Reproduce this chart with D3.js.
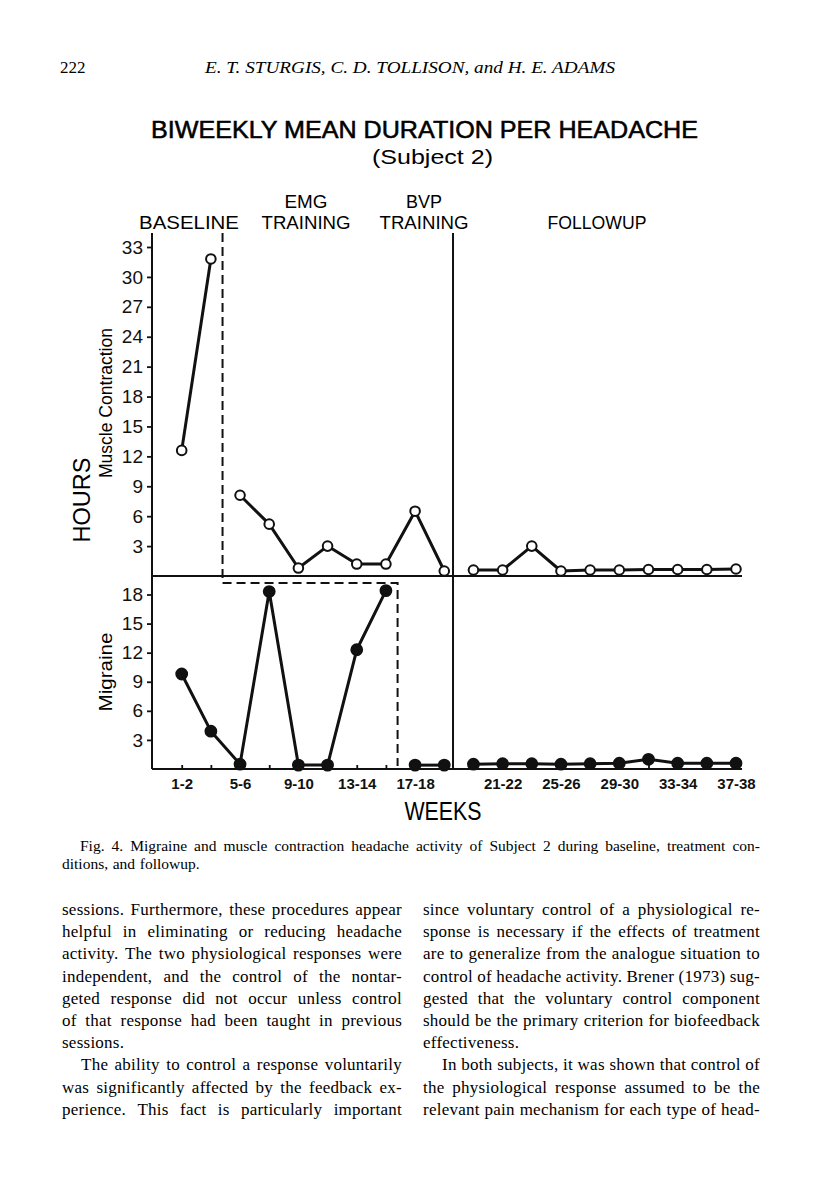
<!DOCTYPE html>
<html>
<head>
<meta charset="utf-8">
<script src="https://cdn.jsdelivr.net/npm/d3@7"></script>
<style>
  body { margin: 0; background: #fff; }
  svg { display: block; }
</style>
</head>
<body>
<svg id="page" width="816" height="1195"></svg>
<script>

// biweekly periods along the x axis (slot index 0..19), only some are labelled
var slotLabels = ["1-2", "", "5-6", "", "9-10", "", "13-14", "", "17-18", "",
                  "", "21-22", "", "25-26", "", "29-30", "", "33-34", "", "37-38"];

// mean hours per headache, one value per slot
var muscleHours   = [12.6, 31.8, 8.1, 5.2, 0.8, 3.0, 1.2, 1.2, 6.5, 0.5,
                     0.6, 0.6, 3.0, 0.5, 0.6, 0.6, 0.65, 0.65, 0.65, 0.7];
var migraineHours = [9.8, 3.9, 0.5, 18.3, 0.4, 0.4, 12.3, 18.4, 0.4, 0.4,
                     0.5, 0.55, 0.55, 0.5, 0.55, 0.6, 1.0, 0.6, 0.6, 0.6];

// phase boundaries (slot units) where each series' line is broken
var muscleBreaks   = [1.4, 9.3];
var migraineBreaks = [7.4, 9.3];

var upperTicks = [3, 6, 9, 12, 15, 18, 21, 24, 27, 30, 33];
var lowerTicks = [3, 6, 9, 12, 15, 18];

var leftText = [
    ["sessions. Furthermore, these procedures appear", true],
    ["helpful in eliminating or reducing headache", true],
    ["activity. The two physiological responses were", true],
    ["independent, and the control of the nontar-", true],
    ["geted response did not occur unless control", true],
    ["of that response had been taught in previous", true],
    ["sessions.", false],
    ["The ability to control a response voluntarily", true, 19],
    ["was significantly affected by the feedback ex-", true],
    ["perience. This fact is particularly important", true]
];
var rightText = [
    ["since voluntary control of a physiological re-", true],
    ["sponse is necessary if the effects of treatment", true],
    ["are to generalize from the analogue situation to", true],
    ["control of headache activity. Brener (1973) sug-", true],
    ["gested that the voluntary control component", true],
    ["should be the primary criterion for biofeedback", true],
    ["effectiveness.", false],
    ["In both subjects, it was shown that control of", true, 19],
    ["the physiological response assumed to be the", true],
    ["relevant pain mechanism for each type of head-", true]
];

var svg = d3.select("#page");
var sans = "'Liberation Sans', Arial, sans-serif";
var serif = "'Liberation Serif', 'Times New Roman', serif";

// ---- running head ----
svg.append("text")
    .attr("x", 60).attr("y", 73)
    .style("font-family", serif).style("font-size", "17px")
    .text("222");

svg.append("text")
    .attr("x", 205).attr("y", 73)
    .attr("textLength", 410).attr("lengthAdjust", "spacingAndGlyphs")
    .style("font-family", serif).style("font-size", "17.5px").style("font-style", "italic")
    .text("E. T. STURGIS, C. D. TOLLISON, and H. E. ADAMS");

// ---- titles ----
svg.append("text")
    .attr("x", 151).attr("y", 138)
    .attr("textLength", 547).attr("lengthAdjust", "spacingAndGlyphs")
    .style("font-family", sans).style("font-size", "24px")
    .attr("stroke", "#000").attr("stroke-width", 0.55)
    .text("BIWEEKLY MEAN DURATION PER HEADACHE");

svg.append("text")
    .attr("x", 372).attr("y", 164)
    .attr("textLength", 121).attr("lengthAdjust", "spacingAndGlyphs")
    .style("font-family", sans).style("font-size", "21px")
    .text("(Subject 2)");

var phaseText = [
    {x: 189, y: 229, t: "BASELINE", w: 100},
    {x: 306, y: 208, t: "EMG", w: 43},
    {x: 306, y: 229, t: "TRAINING", w: 89},
    {x: 424, y: 208, t: "BVP", w: 36},
    {x: 424, y: 229, t: "TRAINING", w: 89},
    {x: 597, y: 229, t: "FOLLOWUP", w: 99}
];
svg.selectAll("text.phase")
    .data(phaseText)
    .enter().append("text")
    .attr("class", "phase")
    .attr("x", function (d) { return d.x; })
    .attr("y", function (d) { return d.y; })
    .attr("text-anchor", "middle")
    .attr("textLength", function (d) { return d.w; })
    .attr("lengthAdjust", "spacingAndGlyphs")
    .style("font-family", sans).style("font-size", "18.5px")
    .text(function (d) { return d.t; });

// ---- scales ----
var axisX = 152, topY = 233;
var x = d3.scaleLinear().domain([0, 19]).range([181.7, 736]);
var yUp = d3.scaleLinear().domain([0, 33]).range([576, 247]);
var yLo = d3.scaleLinear().domain([0, 18]).range([769, 594.5]);
var rightX = 742;

var fig = svg.append("g");

// axes
var upAxis = fig.append("g")
    .attr("transform", "translate(" + axisX + ",0)")
    .call(d3.axisLeft(yUp).tickValues(upperTicks).tickSize(5).tickPadding(4));
var loAxis = fig.append("g")
    .attr("transform", "translate(" + axisX + ",0)")
    .call(d3.axisLeft(yLo).tickValues(lowerTicks).tickSize(5).tickPadding(4));
var xAxis = fig.append("g")
    .attr("transform", "translate(0," + yLo(0) + ")")
    .call(d3.axisBottom(x).tickValues(d3.range(slotLabels.length))
        .tickSizeInner(-4).tickSizeOuter(0).tickPadding(9)
        .tickFormat(function (i) { return slotLabels[i]; }));

[upAxis, loAxis, xAxis].forEach(function (a) {
    a.select(".domain").remove();
    a.selectAll("line").attr("stroke", "#111").attr("stroke-width", 1.8);
    a.selectAll("text").attr("fill", "#111").style("font-family", sans);
});
upAxis.selectAll("text").style("font-size", "19px");
loAxis.selectAll("text").style("font-size", "19px");
xAxis.selectAll("text").style("font-size", "15px").style("font-weight", "bold");

// frame lines
var frame = fig.append("g").attr("stroke", "#111").attr("stroke-width", 2);
frame.append("line").attr("x1", axisX).attr("x2", axisX).attr("y1", topY).attr("y2", yLo(0));
frame.append("line").attr("x1", axisX).attr("x2", rightX).attr("y1", yUp(0)).attr("y2", yUp(0));
frame.append("line").attr("x1", axisX).attr("x2", rightX).attr("y1", yLo(0)).attr("y2", yLo(0));
frame.append("line").attr("x1", x(9.3)).attr("x2", x(9.3)).attr("y1", topY).attr("y2", yLo(0));

// dashed phase boundary for the two series
var stepY = yUp(0) + 7;
fig.append("path")
    .attr("d", d3.line()([[x(1.4), topY], [x(1.4), stepY], [x(7.4), stepY], [x(7.4), yLo(0) - 3]]))
    .attr("fill", "none").attr("stroke", "#111").attr("stroke-width", 2)
    .attr("stroke-dasharray", "9,5");

// ---- data series ----
function drawSeries(values, breaks, y, filled, r) {
    var pts = values.map(function (v, i) { return {i: i, v: v, g: d3.bisect(breaks, i)}; });
    var groups = d3.groups(pts, function (d) { return d.g; });
    var line = d3.line()
        .x(function (d) { return x(d.i); })
        .y(function (d) { return y(d.v); });
    fig.append("g").selectAll("path")
        .data(groups)
        .enter().append("path")
        .attr("d", function (d) { return line(d[1]); })
        .attr("fill", "none").attr("stroke", "#111")
        .attr("stroke-width", 3).attr("stroke-linejoin", "round");
    fig.append("g").selectAll("circle")
        .data(pts)
        .enter().append("circle")
        .attr("cx", function (d) { return x(d.i); })
        .attr("cy", function (d) { return y(d.v); })
        .attr("r", r)
        .attr("fill", filled ? "#111" : "#fff")
        .attr("stroke", "#111").attr("stroke-width", 2);
}
drawSeries(muscleHours, muscleBreaks, yUp, false, 4.8);
drawSeries(migraineHours, migraineBreaks, yLo, true, 5.4);

// ---- axis titles ----
function vText(px, py, size, len, str) {
    svg.append("text")
        .attr("transform", "translate(" + px + "," + py + ") rotate(-90)")
        .attr("text-anchor", "middle")
        .attr("textLength", len).attr("lengthAdjust", "spacingAndGlyphs")
        .style("font-family", sans).style("font-size", size + "px")
        .text(str);
}
vText(90, 500, 24, 85, "HOURS");
vText(112, 403, 18, 150, "Muscle Contraction");
vText(112, 672, 18, 79, "Migraine");

svg.append("text")
    .attr("x", 443).attr("y", 820)
    .attr("text-anchor", "middle")
    .attr("textLength", 77).attr("lengthAdjust", "spacingAndGlyphs")
    .style("font-family", sans).style("font-size", "25px")
    .text("WEEKS");

// ---- caption and body text ----
function measure(str, size, ls) {
    var t = svg.append("text").style("font-family", serif).style("font-size", size + "px")
        .style("letter-spacing", ls + "px").text(str);
    var w = t.node().getComputedTextLength();
    t.remove();
    return w;
}

function setLine(str, x0, x1, y, justify, size, ls) {
    var words = str.split(" ");
    var widths = words.map(function (w) { return measure(w, size, ls); });
    var total = d3.sum(widths);
    var gap = justify && words.length > 1 ? (x1 - x0 - total) / (words.length - 1) : size * 0.3;
    var t = svg.append("text").attr("y", y)
        .style("font-family", serif).style("font-size", size + "px")
        .style("letter-spacing", ls + "px");
    var cx = x0;
    words.forEach(function (w, i) {
        t.append("tspan").attr("x", cx).text(w);
        cx += widths[i] + gap;
    });
}

setLine("Fig. 4. Migraine and muscle contraction headache activity of Subject 2 during baseline, treatment con-",
    80, 760, 851, true, 15.5, 0);
setLine("ditions, and followup.", 62, 760, 869, false, 15.5, 0);

leftText.forEach(function (d, i) {
    setLine(d[0], 62 + (d[2] || 0), 402, 915 + i * 22.2, d[1], 17, 0.25);
});
rightText.forEach(function (d, i) {
    setLine(d[0], 423 + (d[2] || 0), 760, 915 + i * 22.2, d[1], 17, 0.25);
});

</script>
</body>
</html>
